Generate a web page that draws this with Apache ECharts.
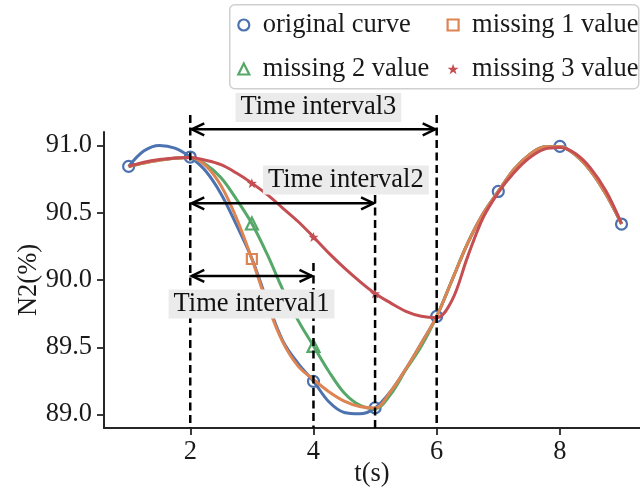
<!DOCTYPE html>
<html><head><meta charset="utf-8">
<script src="https://cdn.jsdelivr.net/npm/echarts@6/dist/echarts.min.js"></script>
<style>html,body{margin:0;padding:0;background:#fff}#c{width:640px;height:492px}</style>
</head><body><div id="c"></div>
<script>
// ---- data ----
const xs = [1,1.25,1.5,1.75,2,2.25,2.5,2.75,3,3.25,3.5,3.75,4,4.25,4.5,4.75,5,5.25,5.5,5.75,6,6.25,6.5,6.75,7,7.25,7.5,7.75,8,8.25,8.5,8.75,9];
const originalCurve = [90.844,90.96,91.0,90.98,90.914,90.81,90.64,90.41,90.16,89.84,89.55,89.38,89.247,89.095,89.015,89.005,89.049,89.17,89.34,89.53,89.73,90.0,90.27,90.49,90.658,90.82,90.93,90.99,90.993,90.93,90.81,90.635,90.416];
const missing1 = [90.844,90.87,90.89,90.905,90.91,90.85,90.70,90.46,90.156,89.82,89.54,89.36,89.26,89.17,89.10,89.06,89.049,89.17,89.34,89.53,89.73,90.0,90.27,90.49,90.658,90.82,90.93,90.99,90.993,90.93,90.81,90.635,90.416];
const missing2 = [90.844,90.87,90.89,90.905,90.91,90.86,90.76,90.60,90.42,90.19,89.93,89.70,89.51,89.32,89.16,89.07,89.045,89.148,89.333,89.507,89.73,90.0,90.27,90.49,90.658,90.82,90.93,90.99,90.993,90.93,90.81,90.635,90.416];
const missing3 = [90.844,90.875,90.895,90.907,90.91,90.89,90.857,90.795,90.72,90.634,90.535,90.435,90.32,90.20,90.09,89.99,89.90,89.83,89.767,89.73,89.72,89.85,90.17,90.46,90.65,90.795,90.906,90.973,90.985,90.94,90.83,90.66,90.42];
const originalMarks = [1,2,4,5,6,7,8,9];
const missing1Marks = [3];
const missing2Marks = [3,4];
const missing3Marks = [3,4,5];
const seriesNames = ['original curve','missing 1 value','missing 2 value','missing 3 value'];
const xTicks = [2,4,6,8];
const yTicks = [89.0,89.5,90.0,90.5,91.0];
// annotations (data coordinates)
const intervalNames = ['Time interval1','Time interval2','Time interval3'];
const intervalStart = [2,2,2];
const intervalEnd = [4,5,6];
const arrowY = [90.03,90.57,91.12];
const labelX = [2.994,4.525,4.08];
const labelY = [89.822,90.743,91.282];
const dashX = [2,4,5,6];
const dashTop = [91.226,90.126,90.632,91.226];

const FONT = "'Liberation Serif','Times New Roman',serif";
const FS = 26.5;
const TXT = '#1a1a1a';
const colors = ['#4C72B0','#DD8452','#55A868','#C44E52'];
const STAR = 'path://M0,-10 L2.35,-3.24 L9.51,-3.09 L3.8,1.24 L5.88,8.09 L0,4 L-5.88,8.09 L-3.8,1.24 L-9.51,-3.09 L-2.35,-3.24 Z';
const symDefs = [
  {symbol:'circle', size:11, hollow:true},
  {symbol:'rect', size:10, hollow:true},
  {symbol:'triangle', size:12, hollow:true},
  {symbol:STAR, size:10, hollow:false}
];

function build(ys, marks, k){
  const d = symDefs[k];
  return xs.map((x,i)=> marks.indexOf(x)>=0
    ? {value:[x,ys[i]], symbol:d.symbol, symbolSize:d.size,
       itemStyle: d.hollow ? {color:'rgba(0,0,0,0)', borderColor:colors[k], borderWidth:2.2} : {color:colors[k], borderWidth:0}}
    : {value:[x,ys[i]], symbol:'none'});
}
function lineSeries(k, ys, marks, z){
  return {type:'line', name:seriesNames[k], data:build(ys,marks,k), smooth:0.35,
    showSymbol:true, showAllSymbol:true, z:z,
    lineStyle:{color:colors[k], width:3}, itemStyle:{color:colors[k]}, emphasis:{disabled:true}};
}
function legendItem(k){
  const d = symDefs[k];
  return {name:seriesNames[k], icon:d.symbol,
    itemStyle: d.hollow ? {color:'rgba(0,0,0,0)', borderColor:colors[k], borderWidth:2.2} : {color:colors[k], borderWidth:0}};
}

const chart = echarts.init(document.getElementById('c'), null, {renderer:'canvas'});
const legendCommon = {orient:'vertical', padding:0, itemWidth:11, itemHeight:11, itemGap:14,
  textStyle:{fontFamily:FONT, fontSize:FS, color:TXT, lineHeight:30, padding:[0,0,0,8.5]}, selectedMode:false};

chart.setOption({
  animation:false,
  backgroundColor:'#fff',
  textStyle:{fontFamily:FONT},
  grid:{left:104, top:132, right:0, bottom:64, containLabel:false, outerBoundsMode:'none'},
  graphic:[{type:'rect', left:229, top:4, shape:{width:409, height:84, r:5},
    style:{fill:'#fff', stroke:'#d0d0d0', lineWidth:1.5}, z:90}],
  legend:[
    Object.assign({left:237.2, top:10, data:[legendItem(0), legendItem(2)], z:100}, legendCommon),
    Object.assign({left:446.5, top:10, data:[legendItem(1), legendItem(3)], z:100}, legendCommon)
  ],
  xAxis:{type:'value', min:0.6, max:9.3, name:'t(s)', nameLocation:'middle', nameGap:33, nameMoveOverlap:false,
    nameTextStyle:{fontFamily:FONT, fontSize:FS, color:TXT},
    splitLine:{show:false},
    axisLine:{show:true, lineStyle:{color:'#262626', width:2}},
    axisTick:{show:true, length:7, lineStyle:{color:'#262626', width:1.8}, customValues:xTicks},
    axisLabel:{fontFamily:FONT, fontSize:FS, color:TXT, margin:11, customValues:xTicks}},
  yAxis:{type:'value', min:88.9, max:91.1, name:'N2(%)', nameLocation:'middle', nameGap:61, nameMoveOverlap:false,
    nameTextStyle:{fontFamily:FONT, fontSize:FS, color:TXT},
    splitLine:{show:false},
    axisLine:{show:true, lineStyle:{color:'#262626', width:2}},
    axisTick:{show:true, length:7, lineStyle:{color:'#262626', width:1.8}, customValues:yTicks},
    axisLabel:{fontFamily:FONT, fontSize:FS, color:TXT, margin:12, customValues:yTicks,
      formatter:v=>Number(v).toFixed(1)}},
  series:[
    lineSeries(0, originalCurve, originalMarks, 2),
    lineSeries(2, missing2, missing2Marks, 3),
    lineSeries(1, missing1, missing1Marks, 4),
    lineSeries(3, missing3, missing3Marks, 5),
    {type:'custom', name:'annot', clip:false, z:20, silent:true,
      data: intervalNames.map((n,i)=>i),
      renderItem:function(params, api){
        const i = params.dataIndex;
        const children = [];
        const yBottom = api.coord([0, 88.9])[1];
        if (i === 0){
          for (let j=0;j<dashX.length;j++){
            const t = api.coord([dashX[j], dashTop[j]]);
            children.push({type:'line', shape:{x1:t[0], y1:t[1], x2:t[0], y2:yBottom},
              style:{stroke:'#000', lineWidth:2.5, lineDash:[8,4.5]}});
          }
        }
        const a = api.coord([intervalStart[i], arrowY[i]]);
        const b = api.coord([intervalEnd[i], arrowY[i]]);
        const L = 14, W = 6;
        children.push({type:'line', shape:{x1:a[0]+1.5, y1:a[1], x2:b[0]-1.5, y2:b[1]}, style:{stroke:'#000', lineWidth:2.5}});
        children.push({type:'polyline', shape:{points:[[a[0]+L,a[1]-W],[a[0]+1.5,a[1]],[a[0]+L,a[1]+W]]}, style:{stroke:'#000', lineWidth:2.5, fill:null}});
        children.push({type:'polyline', shape:{points:[[b[0]-L,b[1]-W],[b[0]-1.5,b[1]],[b[0]-L,b[1]+W]]}, style:{stroke:'#000', lineWidth:2.5, fill:null}});
        const c = api.coord([labelX[i], labelY[i]]);
        children.push({type:'text', x:c[0], y:c[1], z2:10,
          style:{text:intervalNames[i], font:FS+'px '+FONT, fill:'#111', align:'center', verticalAlign:'middle',
            backgroundColor:'#ebebeb', padding:[1,5,1,5]}});
        return {type:'group', children:children};
      }
    }
  ]
});
</script></body></html>
